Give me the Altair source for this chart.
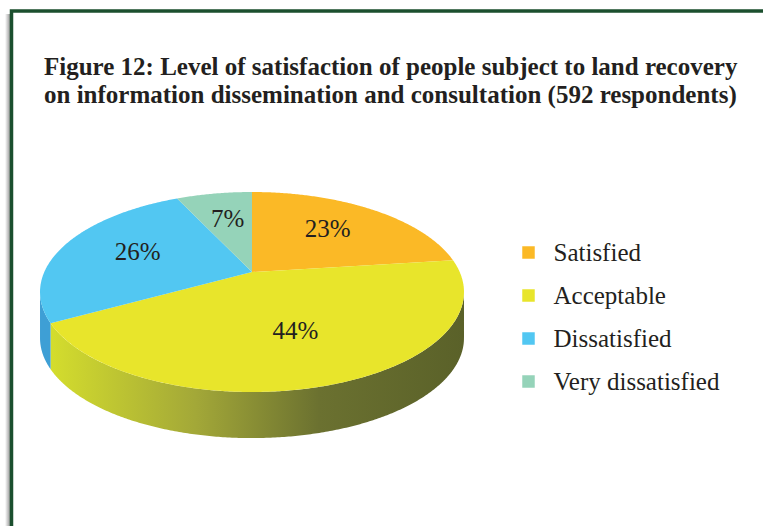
import numpy as np
import pandas as pd
import altair as alt

# ---- data ----
categories = ["Satisfied", "Acceptable", "Dissatisfied", "Very dissatisfied"]
shares = [23, 44, 26, 7]
top_colors = ["#fbb926", "#e8e52b", "#52c7f2", "#95d3b9"]
side_fill = {"Acceptable": "gradient", "Dissatisfied": "#3e9fd5"}
title_lines = [
    "Figure 12: Level of satisfaction of people subject to land recovery",
    "on information dissemination and consultation (592 respondents)",
]

# ---- 3D pie geometry (perspective-tilted disk) ----
K = 0.2          # perspective strength
DEPTH = 0.48     # thickness of the pie in y units
LABEL_R = 0.6
SIL0 = np.degrees(np.arccos(-K))
SIL1 = 360 - SIL0


def project(theta_deg, r=1.0):
    t = np.radians(theta_deg)
    u = r * np.sin(t)
    v = r * np.cos(t)
    d = 1 + K * v
    return u / d, v / d


top_rows, side_rows, label_rows = [], [], []
cum = np.concatenate([[0], np.cumsum(shares)])
for i, c in enumerate(categories):
    a0 = cum[i] / cum[-1] * 360
    a1 = cum[i + 1] / cum[-1] * 360
    th = np.linspace(a0, a1, max(2, int(a1 - a0) * 2 + 1))
    pts = [(0.0, 0.0)] + [project(t) for t in th] + [(0.0, 0.0)]
    for k, (x, y) in enumerate(pts):
        top_rows.append({"cat": c, "x": x, "y": y, "k": k})
    s0, s1 = max(a0, SIL0), min(a1, SIL1)
    if s1 > s0:
        ths = np.linspace(s0, s1, max(2, int(s1 - s0) * 2 + 1))
        up = [project(t) for t in ths]
        lo = [(x, y - DEPTH) for (x, y) in up[::-1]]
        poly = up + lo + [up[0]]
        for k, (x, y) in enumerate(poly):
            side_rows.append({"cat": c, "x": x, "y": y, "k": k})
    lx, ly = project((a0 + a1) / 2, LABEL_R)
    label_rows.append({"cat": c, "x": lx, "y": ly, "text": f"{shares[i]}%"})

top_df = pd.DataFrame(top_rows)
side_df = pd.DataFrame(side_rows)
label_df = pd.DataFrame(label_rows)

# pixel mapping: pie apex at (252, 272); 207.7 px per x unit, 96 px per y unit
W, H = 763, 526
CX, CY, SX, SY = 252, 272, 207.7, 96.0
xdom = [-CX / SX, (W - CX) / SX]
ydom = [(CY - H) / SY, CY / SY]
X = alt.X("x:Q", scale=alt.Scale(domain=xdom, nice=False, zero=False), axis=None)
Y = alt.Y("y:Q", scale=alt.Scale(domain=ydom, nice=False, zero=False), axis=None)

grad = alt.LinearGradient(
    gradient="linear", x1=0, x2=1, y1=0, y2=0,
    stops=[
        alt.GradientStop(offset=0, color="#d4dd2d"),
        alt.GradientStop(offset=0.35, color="#a3a838"),
        alt.GradientStop(offset=0.65, color="#6b7130"),
        alt.GradientStop(offset=1, color="#5a6129"),
    ],
)

side_layers = []
for c in categories:
    if c in side_fill:
        f = grad if side_fill[c] == "gradient" else side_fill[c]
        side_layers.append(
            alt.Chart(side_df[side_df.cat == c])
            .mark_line(fill=f, strokeWidth=0, interpolate="linear")
            .encode(x=X, y=Y, order="k:Q")
        )

tops = (
    alt.Chart(top_df)
    .mark_line(filled=True, strokeWidth=0.6)
    .encode(
        x=X, y=Y, order="k:Q",
        color=alt.Color(
            "cat:N",
            scale=alt.Scale(domain=categories, range=top_colors),
            legend=alt.Legend(
                title=None, orient="none", legendX=516, legendY=240,
                symbolType="square", symbolSize=156, symbolStrokeWidth=0,
                labelFont="Liberation Serif", labelFontSize=25,
                labelColor="#231f20", labelOffset=12.5, rowPadding=17,
                padding=0, labelLimit=400,
            ),
        ),
    )
)

labels = (
    alt.Chart(label_df)
    .mark_text(font="Liberation Serif", fontSize=25, color="#231f20",
               align="center", baseline="middle", dy=-3)
    .encode(x=X, y=Y, text="text:N")
)

frame_df = pd.DataFrame({"d": [0]})
shadow = alt.Chart(frame_df).mark_rect(
    fill=alt.LinearGradient(
        gradient="linear", x1=0, x2=1, y1=0, y2=0,
        stops=[alt.GradientStop(offset=0, color="#ffffff"),
               alt.GradientStop(offset=1, color="#9a9a9a")],
    )
).encode(x=alt.value(5), x2=alt.value(10), y=alt.value(14), y2=alt.value(600))
frame = alt.Chart(frame_df).mark_rect(
    fill="transparent", stroke="#1b4f2e", strokeWidth=3.5
).encode(x=alt.value(11.5), x2=alt.value(900), y=alt.value(11), y2=alt.value(700))

chart = (
    alt.layer(shadow, frame, *side_layers, tops, labels)
    .properties(
        width=W, height=H,
        autosize=alt.AutoSizeParams(type="none"),
        padding=0,
        background="white",
        title=alt.TitleParams(
            text=title_lines, font="Liberation Serif", fontSize=25,
            fontWeight="bold", color="#231f20", anchor="start",
            frame="group", orient="top", offset=0, dx=44, dy=128,
            lineHeight=28.4, baseline="alphabetic",
        ),
    )
    .configure_view(stroke=None)
)

chart.save("out.html", embed_options={"renderer": "svg", "actions": False})
